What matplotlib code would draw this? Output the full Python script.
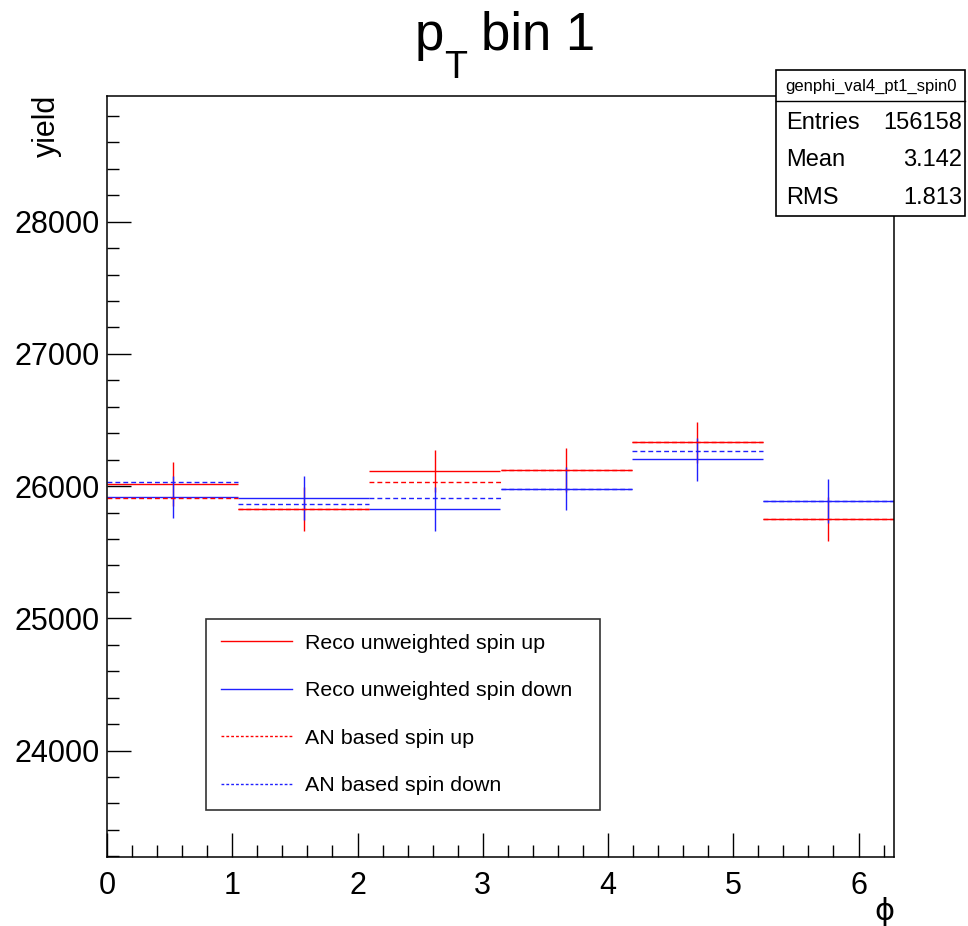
import numpy as np
import matplotlib
matplotlib.use("Agg")
import matplotlib.pyplot as plt
from matplotlib.lines import Line2D
from matplotlib.ticker import MultipleLocator

plt.rcParams['font.family'] = ['Liberation Sans', 'DejaVu Sans']

# 6 bins in phi, 0 .. 2pi
n_bins = 6
phi_max = 2 * np.pi

# Reco unweighted (drawn with error bars)
reco_up = [26017, 25824, 26113, 26120, 26330, 25753]
reco_up_err = [164, 166, 160, 166, 158, 166]
reco_down = [25917, 25909, 25824, 25980, 26202, 25887]
reco_down_err = [161, 166, 166, 163, 164, 164]

# AN based (dashed)
an_up = [25907, 25824, 26030, 26120, 26330, 25753]
an_down = [26028, 25866, 25909, 25980, 26267, 25887]

stats_name = "genphi_val4_pt1_spin0"
stats_rows = [("Entries", "156158"), ("Mean", "3.142"), ("RMS", "1.813")]

legend_labels = ["Reco unweighted spin up", "Reco unweighted spin down",
                 "AN based spin up", "AN based spin down"]

W, H = 968, 926
fig = plt.figure(figsize=(W / 100, H / 100), dpi=100)
ax = fig.add_axes([107 / W, 1 - 857 / H, 787 / W, 761 / H])

edges = np.linspace(0, phi_max, n_bins + 1)
centers = 0.5 * (edges[:-1] + edges[1:])
half = 0.5 * (edges[1] - edges[0])

red = '#ff0000'
blue = '#2020ff'
lw = 1.0

ax.errorbar(centers, reco_up, xerr=half, yerr=reco_up_err, fmt='none',
            ecolor=red, elinewidth=lw, capsize=0)
ax.errorbar(centers, reco_down, xerr=half, yerr=reco_down_err, fmt='none',
            ecolor=blue, elinewidth=lw, capsize=0)
ax.hlines(an_up, edges[:-1], edges[1:], colors=red, lw=lw,
          linestyles=(0, (3.5, 2.2)))
ax.hlines(an_down, edges[:-1], edges[1:], colors=blue, lw=lw,
          linestyles=(0, (3.5, 2.2)))

ax.set_xlim(0, phi_max)
ax.set_ylim(23195, 28950)

ax.xaxis.set_major_locator(MultipleLocator(1))
ax.xaxis.set_minor_locator(MultipleLocator(0.2))
ax.yaxis.set_major_locator(MultipleLocator(1000))
ax.yaxis.set_minor_locator(MultipleLocator(200))
ax.tick_params(which='both', direction='in', top=False, right=False,
               labelsize=22, width=1.0, color='black')
ax.tick_params(which='major', length=17)
ax.tick_params(which='minor', length=8.5)
ax.tick_params(axis='y', pad=5)
ax.tick_params(axis='x', pad=10)
for s in ax.spines.values():
    s.set_linewidth(1.1)

# title, ROOT style p_{T} with a low subscript
fig.text(415 / W, 1 - 50 / H, 'p', fontsize=38, ha='left', va='baseline')
fig.text(444 / W, 1 - 78 / H, 'T', fontsize=27, ha='left', va='baseline')
fig.text(481 / W, 1 - 50 / H, 'bin 1', fontsize=38, ha='left', va='baseline')

fig.text(47 / W, 1 - 95 / H, 'yield', rotation=90, fontsize=22,
         ha='center', va='top')
fig.text(894 / W, 1 - 912 / H, 'ϕ', fontsize=22, ha='right', va='center',
         family=['DejaVu Sans'])

# legend
handles = [Line2D([], [], color=red, lw=lw),
           Line2D([], [], color=blue, lw=lw),
           Line2D([], [], color=red, lw=lw, ls=(0, (2, 1.5))),
           Line2D([], [], color=blue, lw=lw, ls=(0, (2, 1.5)))]
leg = fig.legend(handles, legend_labels, loc='upper left',
                 bbox_to_anchor=(206 / W, 1 - 810 / H, 394 / W, 191 / H),
                 mode='expand', fontsize=15.4, frameon=True, fancybox=False,
                 edgecolor='black', borderaxespad=0, handlelength=3.3,
                 handletextpad=0.65, labelspacing=1.33, borderpad=0.7)
leg.get_frame().set_linewidth(1.2)

# stats box
bx0, bx1 = 776 / W, 965 / W
by0, by1 = 1 - 216 / H, 1 - 70 / H
fig.patches.append(plt.Rectangle((bx0, by0), bx1 - bx0, by1 - by0,
                                 transform=fig.transFigure, facecolor='white',
                                 edgecolor='black', lw=1.2, zorder=5))
fig.lines.append(Line2D([bx0, bx1], [1 - 101 / H] * 2, transform=fig.transFigure,
                        color='black', lw=1.0, zorder=6))
fig.text((bx0 + bx1) / 2, 1 - 86 / H, stats_name, fontsize=12,
         ha='center', va='center', zorder=7)
for i, (k, v) in enumerate(stats_rows):
    yy = 1 - (123 + 37.5 * i) / H
    fig.text(786 / W, yy, k, fontsize=17, ha='left', va='center', zorder=7)
    fig.text(962 / W, yy, v, fontsize=17, ha='right', va='center', zorder=7)

fig.savefig('out.png', dpi=100)
